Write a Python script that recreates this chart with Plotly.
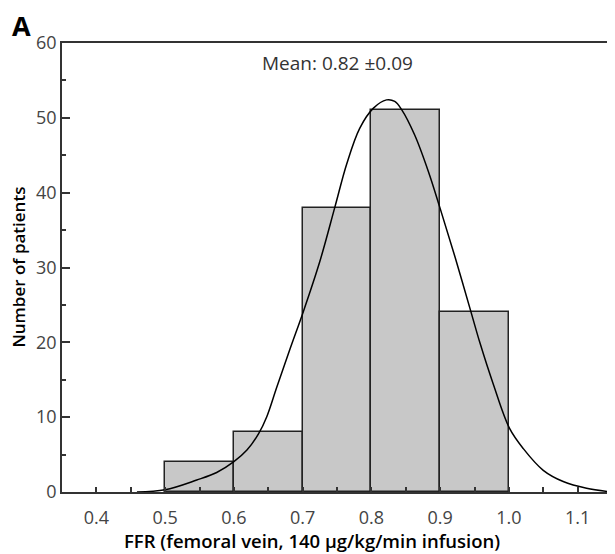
import plotly.graph_objects as go

# histogram bins (left edges) and counts
bin_left = [0.5, 0.6, 0.7, 0.8, 0.9]
bin_width = 0.1
counts = [4, 8, 38, 51, 24]

# fitted density curve
curve_x = [0.459, 0.50, 0.546, 0.575, 0.60, 0.619, 0.636, 0.648, 0.662, 0.682, 0.701, 0.725,
           0.747, 0.764, 0.783, 0.803, 0.822, 0.834, 0.844, 0.863, 0.883, 0.900, 0.922,
           0.946, 0.958, 0.977, 1.001, 1.021, 1.050, 1.079, 1.113, 1.150]
curve_y = [0.0, 0.3, 1.6, 2.6, 4.05, 5.6, 7.8, 10.1, 13.9, 19.2, 24.1, 30.8,
           38.1, 43.8, 48.6, 51.3, 52.4, 52.2, 51.1, 47.7, 42.8, 37.9, 31.3,
           23.7, 19.9, 14.5, 8.5, 5.8, 2.9, 1.4, 0.5, 0.0]

x_ticks = [0.4, 0.5, 0.6, 0.7, 0.8, 0.9, 1.0, 1.1]
x_tick_text = ["0.4", "0.5", "0.6", "0.7", "0.8", "0.9", "1.0", "1.1"]
y_ticks = [0, 10, 20, 30, 40, 50, 60]

font_family = "Open Sans, Noto Sans, sans-serif"
axis_col = "#333333"

fig = go.Figure()

fig.add_trace(go.Bar(
    x=[b + bin_width / 2 for b in bin_left], y=counts, width=bin_width,
    marker=dict(color="#c8c8c8", line=dict(color="#222222", width=1.5)),
    showlegend=False, hoverinfo="skip"))

fig.add_trace(go.Scatter(
    x=curve_x, y=curve_y, mode="lines",
    line=dict(color="black", width=1.5, shape="spline", smoothing=1.0),
    showlegend=False, hoverinfo="skip"))

fig.update_xaxes(
    range=[0.35, 1.15], tickvals=x_ticks, ticktext=x_tick_text,
    ticks="inside", ticklen=5, tickwidth=1.5, tickcolor=axis_col,
    minor=dict(dtick=0.05, tick0=0.35, ticks="inside", ticklen=5, tickwidth=1.5, tickcolor=axis_col),
    showline=True, linecolor=axis_col, linewidth=1.5, mirror=True,
    showgrid=False, zeroline=False, ticklabelstandoff=9,
    tickfont=dict(family=font_family, size=18, color="#444444"))

fig.update_yaxes(
    range=[0, 60], tickvals=y_ticks,
    ticks="inside", ticklen=8, tickwidth=1.5, tickcolor=axis_col,
    minor=dict(dtick=5, ticks="inside", ticklen=4, tickwidth=1.5, tickcolor=axis_col),
    showline=True, linecolor=axis_col, linewidth=1.5, mirror=True,
    showgrid=False, zeroline=False,
    tickfont=dict(family=font_family, size=18, color="#444444"))

# page has an 8px body margin, so the figure is 8px smaller and shifted
fig.add_annotation(text="Mean: 0.82 ±0.09", xref="paper", yref="paper", x=0.5, y=0.955,
                   xanchor="center", yanchor="middle", showarrow=False,
                   font=dict(family=font_family, size=19, color="#333333"))
fig.add_annotation(text="A", xref="paper", yref="paper", x=-0.094, y=1.04,
                   xanchor="left", yanchor="middle", showarrow=False,
                   font=dict(family=font_family, size=27, color="black", weight=700))
fig.add_annotation(text="FFR (femoral vein, 140 µg/kg/min infusion)", xref="paper", yref="paper",
                   x=0.455, y=-0.109, xanchor="center", yanchor="middle", showarrow=False,
                   font=dict(family=font_family, size=18.5, color="black", weight=600))
fig.add_annotation(text="Number of patients", xref="paper", yref="paper",
                   x=-0.08, y=0.5, xanchor="center", yanchor="middle", textangle=-90, showarrow=False,
                   font=dict(family=font_family, size=17, color="black", weight=600))

fig.update_layout(
    width=607, height=546, plot_bgcolor="white", paper_bgcolor="white",
    margin=dict(l=54, r=1, t=35, b=62), bargap=0)

fig.write_html("out.html")
